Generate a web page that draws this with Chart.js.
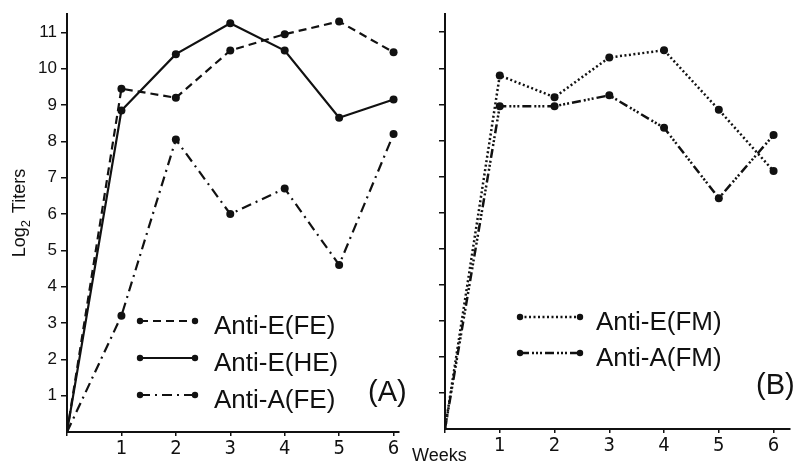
<!DOCTYPE html>
<html>
<head>
<meta charset="utf-8">
<script src="https://cdn.jsdelivr.net/npm/chart.js@4.4.1/dist/chart.umd.min.js"></script>
<style>
    body { margin: 0; background: #fff; }
    #wrap { position: relative; width: 798px; height: 467px; }
    canvas { position: absolute; top: 0; }
</style>
</head>
<body>
<div id="wrap">
    <canvas id="chartB" width="398" height="467" style="left:400px"></canvas>
    <canvas id="chartA" width="415" height="467" style="left:0"></canvas>
</div>
<script>
// Data (log2 titers per week)
const weeks = [0, 1, 2, 3, 4, 5, 6];
const antiE_FE = [0, 9.45, 9.2, 10.5, 10.95, 11.3, 10.45];
const antiE_HE = [0, 8.85, 10.4, 11.25, 10.5, 8.65, 9.15];
const antiA_FE = [0, 3.2, 8.05, 6.0, 6.7, 4.6, 8.2];
const antiE_FM = [0, 9.8, 9.2, 10.3, 10.5, 8.85, 7.15];
const antiA_FM = [0, 8.95, 8.95, 9.25, 8.35, 6.4, 8.15];
const yTicks = [1, 2, 3, 4, 5, 6, 7, 8, 9, 10, 11];

const ink = "#111";
const tickFont = { family: "'Liberation Sans', Arial, sans-serif", size: 17 };
const weekFont = { family: "'Liberation Sans Narrow', 'DejaVu Sans Condensed', sans-serif", size: 20 };

function points(values) {
    return weeks.map((w, i) => ({ x: w, y: values[i] }));
}

function series(label, values, dash, width) {
    return {
        label: label,
        data: points(values),
        borderColor: ink,
        borderWidth: width || 2.2,
        borderDash: dash,
        pointRadius: weeks.map(w => (w === 0 ? 0 : 4)),
        pointBackgroundColor: ink,
        pointBorderWidth: 0,
        tension: 0,
        fill: false,
    };
}

// Legend, panel tag and axis titles drawn straight on the canvas
const decor = {
    id: "decor",
    afterDraw(chart, args, opts) {
        const ctx = chart.ctx;
        ctx.save();
        ctx.fillStyle = ink;
        ctx.strokeStyle = ink;

        // legend
        const lg = opts.legend;
        chart.data.datasets.forEach((ds, i) => {
            const y = lg.y + i * lg.gap;
            ctx.lineWidth = ds.borderWidth;
            ctx.setLineDash(ds.borderDash || []);
            ctx.beginPath();
            ctx.moveTo(lg.x0, y);
            ctx.lineTo(lg.x1, y);
            ctx.stroke();
            ctx.setLineDash([]);
            [lg.x0, lg.x1].forEach(x => {
                ctx.beginPath();
                ctx.arc(x, y, 3.2, 0, Math.PI * 2);
                ctx.fill();
            });
            ctx.font = "26px 'Liberation Sans', Arial, sans-serif";
            ctx.textBaseline = "middle";
            ctx.textAlign = "left";
            ctx.fillText(ds.label, lg.textX, y + 6);
        });

        // panel tag
        ctx.font = "29px 'Liberation Sans', Arial, sans-serif";
        ctx.textBaseline = "middle";
        ctx.fillText(opts.tag.text, opts.tag.x, opts.tag.y);

        // y title
        if (opts.yTitle) {
            ctx.save();
            ctx.translate(opts.yTitle.x, opts.yTitle.y);
            ctx.rotate(-Math.PI / 2);
            ctx.textAlign = "left";
            ctx.textBaseline = "middle";
            ctx.font = "18px 'Liberation Sans', Arial, sans-serif";
            const w1 = ctx.measureText("Log").width;
            const total = w1 + 9 + ctx.measureText(" Titers").width;
            let x = -total / 2;
            ctx.fillText("Log", x, 0);
            x += w1;
            ctx.font = "13px 'Liberation Sans', Arial, sans-serif";
            ctx.fillText("2", x, 6);
            x += 9;
            ctx.font = "18px 'Liberation Sans', Arial, sans-serif";
            ctx.fillText(" Titers", x, 0);
            ctx.restore();
        }

        // x title
        if (opts.xTitle) {
            ctx.font = "18px 'Liberation Sans', Arial, sans-serif";
            ctx.textAlign = "left";
            ctx.textBaseline = "middle";
            ctx.fillText("Weeks", opts.xTitle.x, opts.xTitle.y);
        }
        ctx.restore();
    },
};

function makeOptions(cfg) {
    return {
        responsive: false,
        animation: false,
        devicePixelRatio: 1,
        layout: { padding: cfg.padding },
        plugins: {
            legend: { display: false },
            tooltip: { enabled: false },
            decor: cfg.decor,
        },
        scales: {
            x: {
                type: "linear",
                min: 0,
                max: cfg.xMax,
                afterFit: s => { s.height = cfg.xHeight; },
                border: { color: ink, width: 2 },
                grid: { drawOnChartArea: false, drawTicks: true, tickLength: 4, color: ink, lineWidth: 1.5 },
                ticks: {
                    stepSize: 1,
                    includeBounds: false,
                    color: ink,
                    font: weekFont,
                    padding: 1,
                    maxRotation: 0,
                    callback: v => (v === 0 ? "" : v),
                },
            },
            y: {
                type: "linear",
                min: 0,
                max: 11.5,
                afterFit: s => { s.width = cfg.yWidth; },
                border: { color: ink, width: 2 },
                grid: { drawOnChartArea: false, drawTicks: true, tickLength: 6, color: ink, lineWidth: 1.5 },
                afterBuildTicks: s => { s.ticks = yTicks.map(v => ({ value: v })); },
                ticks: {
                    color: ink,
                    font: tickFont,
                    padding: 4,
                    callback: v => (cfg.yLabels ? v : ""),
                },
            },
        },
    };
}

// Panel A
new Chart(document.getElementById("chartA"), {
    type: "line",
    data: {
        datasets: [
            series("Anti-E(FE)", antiE_FE, [8, 5]),
            series("Anti-E(HE)", antiE_HE, []),
            series("Anti-A(FE)", antiA_FE, [10, 5, 2, 5]),
        ],
    },
    options: makeOptions({
        padding: { top: 13, right: 16, left: 0, bottom: 0 },
        xMax: 6.1,
        xHeight: 35,
        yWidth: 67,
        yLabels: true,
        decor: {
            legend: { x0: 140, x1: 195, y: 321, gap: 37, textX: 214 },
            tag: { text: "(A)", x: 368, y: 393 },
            yTitle: { x: 20, y: 213 },
        },
    }),
    plugins: [decor],
});

// Panel B
new Chart(document.getElementById("chartB"), {
    type: "line",
    data: {
        datasets: [
            series("Anti-E(FM)", antiE_FM, [2, 2.5], 2.5),
            series("Anti-A(FM)", antiA_FM, [9, 3, 2, 2, 2, 2, 2, 3], 2.5),
        ],
    },
    options: makeOptions({
        padding: { top: 10, right: 8, left: 0, bottom: 0 },
        xMax: 6.3,
        xHeight: 38,
        yWidth: 45,
        yLabels: false,
        decor: {
            legend: { x0: 120, x1: 180, y: 317, gap: 36, textX: 196 },
            tag: { text: "(B)", x: 356, y: 386 },
            xTitle: { x: 12, y: 456 },
        },
    }),
    plugins: [decor],
});
</script>
</body>
</html>
